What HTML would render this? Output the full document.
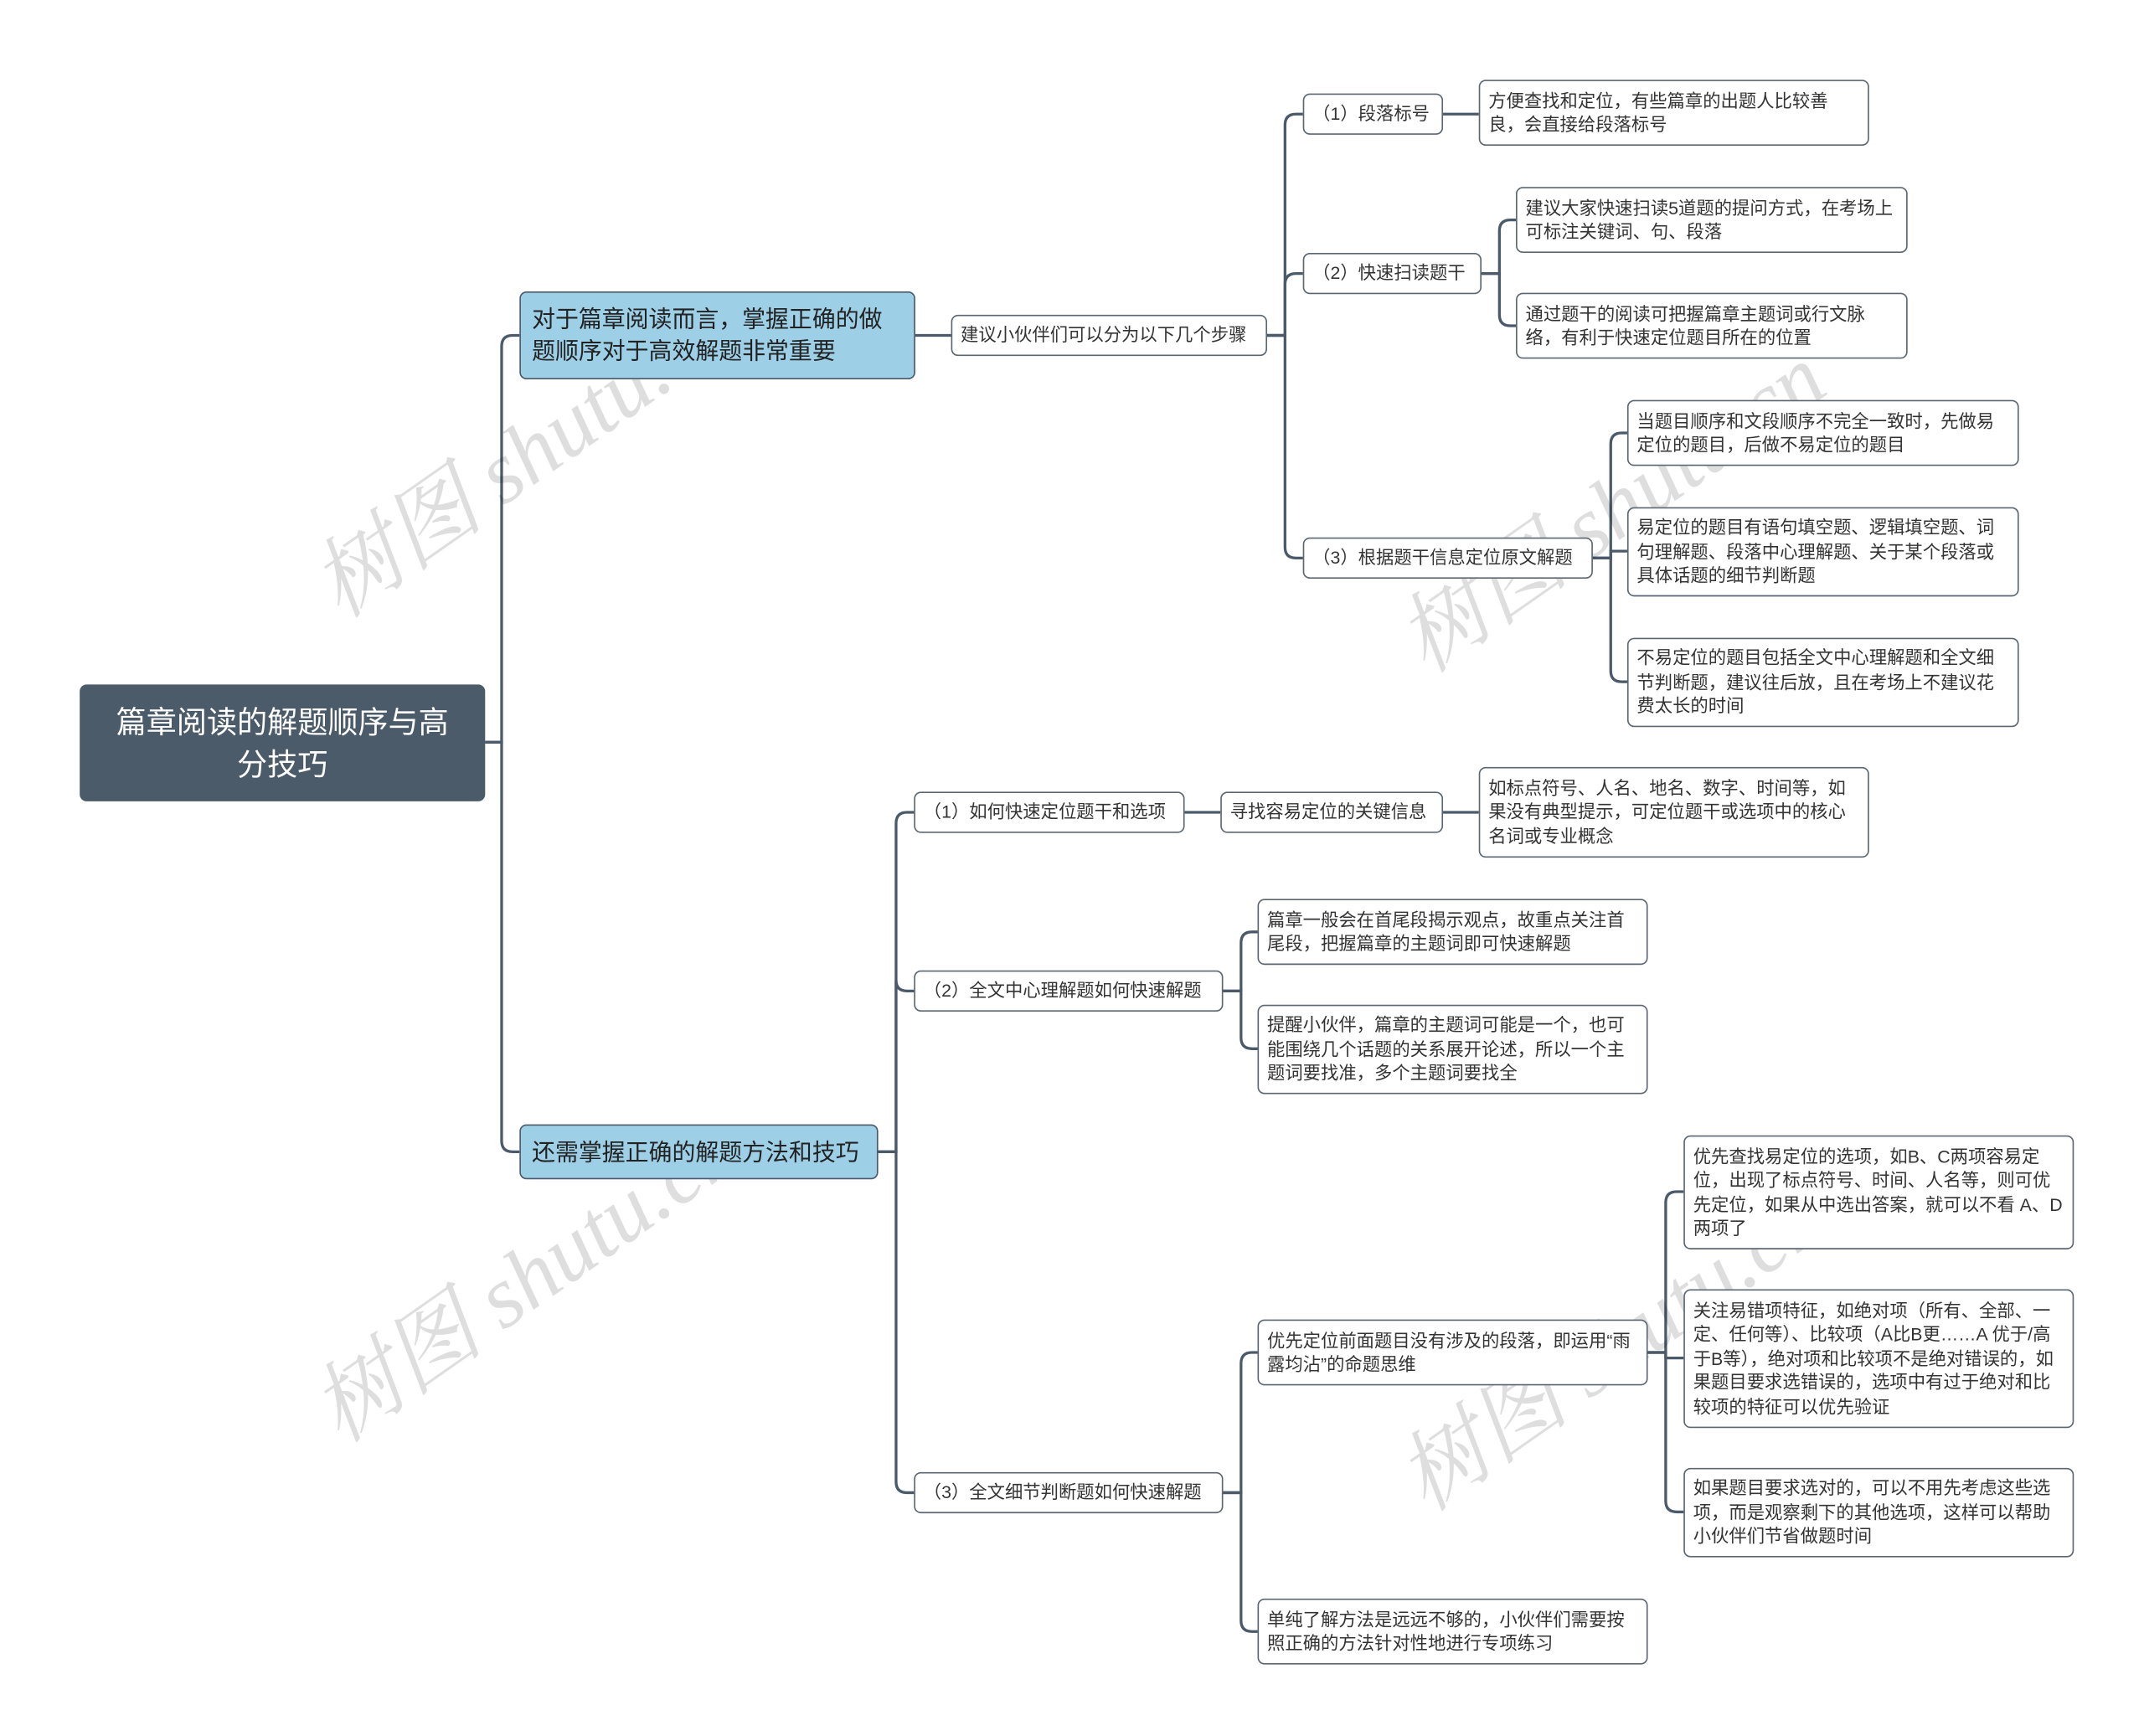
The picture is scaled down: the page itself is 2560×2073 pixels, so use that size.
<!DOCTYPE html>
<html><head><meta charset="utf-8"><style>
html,body{margin:0;padding:0;background:#fff;}
body{width:2560px;height:2073px;overflow:hidden;position:relative;}
#w{position:absolute;left:0;top:0;width:1560px;height:1263px;transform:scale(1.641,1.6413);transform-origin:0 0;font-family:"Liberation Sans","Noto Sans CJK SC",sans-serif;}
.n{position:absolute;box-sizing:border-box;background:#fff;border:1.3px solid #5b6670;border-radius:5px;font-size:13px;line-height:17.5px;color:#333;padding:0 6px;display:flex;align-items:center;}
.b{background:#9dcfe6;border-color:#4a5a6a;font-size:17px;line-height:23px;color:#222;padding:0 8px;}
.r{background:#4b5b6a;border:none;color:#fff;font-size:22px;line-height:31px;justify-content:center;text-align:center;padding:0 22px;}
.wm{position:absolute;font-family:"Liberation Serif","Noto Serif CJK SC",serif;font-size:64px;color:rgba(0,0,0,0.13);transform:rotate(-35deg);white-space:nowrap;font-style:italic;}
svg{position:absolute;left:0;top:0;}
path{fill:none;stroke:#4a5a6a;stroke-width:2;}
</style></head><body><div id="w">
<svg width="1560" height="1263">
<path d="M353 540H365V252Q365 244 373 244H378"/>
<path d="M353 540H365V830Q365 838 373 838H378"/>
<path d="M666 244H692"/>
<path d="M922 244H935V91Q935 83 943 83H948"/>
<path d="M922 244H935V207Q935 199 943 199H948"/>
<path d="M922 244H935V398Q935 406 943 406H948"/>
<path d="M1050 83H1076"/>
<path d="M1078 199H1091V168Q1091 160 1099 160H1103"/>
<path d="M1078 199H1091V229Q1091 237 1099 237H1103"/>
<path d="M1159 406H1172V323Q1172 315 1180 315H1184"/>
<path d="M1159 406H1172V401H1184"/>
<path d="M1159 406H1172V488Q1172 496 1180 496H1184"/>
<path d="M639 838H652V599Q652 591 660 591H665"/>
<path d="M639 838H652V713Q652 721 660 721H665"/>
<path d="M639 838H652V1078Q652 1086 660 1086H665"/>
<path d="M862 591H888"/>
<path d="M1050 591H1076"/>
<path d="M890 721H903V686Q903 678 911 678H915"/>
<path d="M890 721H903V755Q903 763 911 763H915"/>
<path d="M890 1086H903V992Q903 984 911 984H915"/>
<path d="M890 1086H903V1179Q903 1187 911 1187H915"/>
<path d="M1199 984H1212V875Q1212 867 1220 867H1225"/>
<path d="M1199 984H1212V988H1225"/>
<path d="M1199 984H1212V1092Q1212 1100 1220 1100H1225"/>
</svg>
<div class="wm" style="left:200px;top:280px;">树图 shutu.cn</div>
<div class="wm" style="left:200px;top:880px;">树图 shutu.cn</div>
<div class="wm" style="left:990px;top:320px;">树图 shutu.cn</div>
<div class="wm" style="left:990px;top:930px;">树图 shutu.cn</div>

<div class="n r" style="left:58px;top:498px;width:295px;height:85px;">篇章阅读的解题顺序与高分技巧</div>
<div class="n b" style="left:378px;top:212px;width:288px;height:64px;">对于篇章阅读而言，掌握正确的做题顺序对于高效解题非常重要</div>
<div class="n b" style="left:378px;top:818px;width:261px;height:40px;">还需掌握正确的解题方法和技巧</div>
<div class="n" style="left:692px;top:229px;width:230px;height:30px;">建议小伙伴们可以分为以下几个步骤</div>
<div class="n" style="left:948px;top:68px;width:102px;height:30px;">（1）段落标号</div>
<div class="n" style="left:1076px;top:58px;width:284px;height:48px;">方便查找和定位，有些篇章的出题人比较善良，会直接给段落标号</div>
<div class="n" style="left:948px;top:184px;width:130px;height:30px;">（2）快速扫读题干</div>
<div class="n" style="left:1103px;top:136px;width:285px;height:48px;">建议大家快速扫读5道题的提问方式，在考场上可标注关键词、句、段落</div>
<div class="n" style="left:1103px;top:213px;width:285px;height:48px;">通过题干的阅读可把握篇章主题词或行文脉络，有利于快速定位题目所在的位置</div>
<div class="n" style="left:948px;top:391px;width:211px;height:30px;">（3）根据题干信息定位原文解题</div>
<div class="n" style="left:1184px;top:291px;width:285px;height:48px;">当题目顺序和文段顺序不完全一致时，先做易定位的题目，后做不易定位的题目</div>
<div class="n" style="left:1184px;top:369px;width:285px;height:65px;">易定位的题目有语句填空题、逻辑填空题、词句理解题、段落中心理解题、关于某个段落或具体话题的细节判断题</div>
<div class="n" style="left:1184px;top:464px;width:285px;height:65px;">不易定位的题目包括全文中心理解题和全文细节判断题，建议往后放，且在考场上不建议花费太长的时间</div>
<div class="n" style="left:665px;top:576px;width:197px;height:30px;">（1）如何快速定位题干和选项</div>
<div class="n" style="left:888px;top:576px;width:162px;height:30px;">寻找容易定位的关键信息</div>
<div class="n" style="left:1076px;top:558px;width:284px;height:66px;">如标点符号、人名、地名、数字、时间等，如果没有典型提示，可定位题干或选项中的核心名词或专业概念</div>
<div class="n" style="left:665px;top:706px;width:225px;height:30px;">（2）全文中心理解题如何快速解题</div>
<div class="n" style="left:915px;top:654px;width:284px;height:48px;">篇章一般会在首尾段揭示观点，故重点关注首尾段，把握篇章的主题词即可快速解题</div>
<div class="n" style="left:915px;top:731px;width:284px;height:65px;">提醒小伙伴，篇章的主题词可能是一个，也可能围绕几个话题的关系展开论述，所以一个主题词要找准，多个主题词要找全</div>
<div class="n" style="left:665px;top:1071px;width:225px;height:30px;">（3）全文细节判断题如何快速解题</div>
<div class="n" style="left:915px;top:960px;width:284px;height:48px;">优先定位前面题目没有涉及的段落，即运用“雨露均沾”的命题思维</div>
<div class="n" style="left:915px;top:1163px;width:284px;height:48px;">单纯了解方法是远远不够的，小伙伴们需要按照正确的方法针对性地进行专项练习</div>
<div class="n" style="left:1225px;top:826px;width:284px;height:83px;">优先查找易定位的选项，如B、C两项容易定位，出现了标点符号、时间、人名等，则可优先定位，如果从中选出答案，就可以不看 A、D两项了</div>
<div class="n" style="left:1225px;top:938px;width:284px;height:101px;">关注易错项特征，如绝对项（所有、全部、一定、任何等）、比较项（A比B更……A 优于/高于B等），绝对项和比较项不是绝对错误的，如果题目要求选错误的，选项中有过于绝对和比较项的特征可以优先验证</div>
<div class="n" style="left:1225px;top:1068px;width:284px;height:65px;">如果题目要求选对的，可以不用先考虑这些选项，而是观察剩下的其他选项，这样可以帮助小伙伴们节省做题时间</div>
</div></body></html>
